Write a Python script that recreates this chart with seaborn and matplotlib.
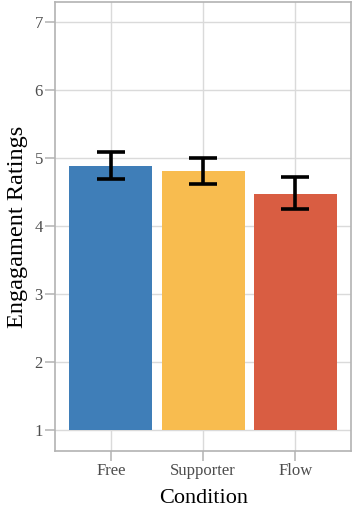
import numpy as np
import pandas as pd
import matplotlib
matplotlib.use("Agg")
import matplotlib.pyplot as plt
import seaborn as sns

conditions = ["Free", "Supporter", "Flow"]
means = [4.89, 4.81, 4.48]
ci_low = [4.69, 4.63, 4.25]
ci_high = [5.09, 5.00, 4.72]
colors = ["#3F7EB8", "#F8BC4F", "#D95D42"]
baseline = 1

df = pd.DataFrame({"condition": conditions, "mean": means,
                   "low": ci_low, "high": ci_high})
df["height"] = df["mean"] - baseline

sns.set_theme(style="whitegrid")
plt.rcParams["font.family"] = ["Liberation Serif", "DejaVu Serif"]

fig, ax = plt.subplots(figsize=(3.53, 5.07), dpi=100)
fig.subplots_adjust(left=0.157, right=0.994, top=0.996, bottom=0.111)

sns.barplot(data=df, x="condition", y="height", hue="condition",
            palette=colors, order=conditions, hue_order=conditions,
            bottom=baseline, width=0.9, errorbar=None, legend=False,
            saturation=1, linewidth=0, ax=ax)

xs = np.arange(len(conditions))
ax.errorbar(xs, df["mean"],
            yerr=[df["mean"] - df["low"], df["high"] - df["mean"]],
            fmt="none", ecolor="black", elinewidth=2.6, capsize=10,
            capthick=2.6, zorder=5)

ax.set_xlim(-0.6, 2.6)
ax.set_ylim(0.7, 7.3)
ax.set_yticks([1, 2, 3, 4, 5, 6, 7])

ax.set_axisbelow(True)
ax.grid(True, axis="both", color="#DADADA", linewidth=1)
for s in ax.spines.values():
    s.set_visible(True)
    s.set_color("#B3B3B3")
    s.set_linewidth(1.2)

ax.tick_params(axis="both", which="major", bottom=True, left=True,
               length=7, width=1.1, color="#B3B3B3",
               labelcolor="#4D4D4D", labelsize=12, pad=2)
ax.set_xlabel("Condition", fontsize=16, color="black", labelpad=7)
ax.set_ylabel("Engagament Ratings", fontsize=17.5, color="black", labelpad=5)

fig.savefig("out.png", dpi=100)
